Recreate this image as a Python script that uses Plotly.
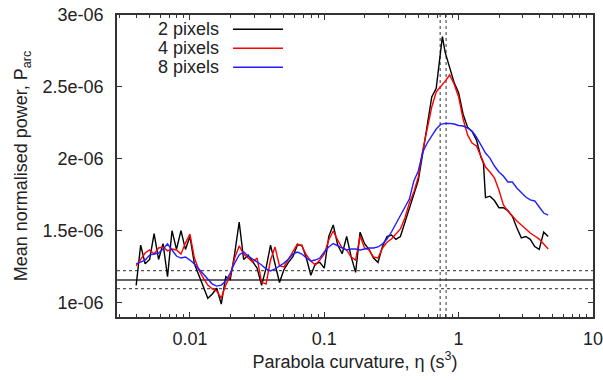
import plotly.graph_objects as go

# ---------------- data ----------------
ETA = [0.003981, 0.004299, 0.004642, 0.005012, 0.005412, 0.005843, 0.006310, 0.006813, 0.007356, 0.007943, 0.008577, 0.009261,
       0.01000, 0.01080, 0.01166, 0.01259, 0.01359, 0.01468, 0.01585, 0.01711, 0.01848, 0.01995, 0.02154, 0.02326, 0.02512, 0.02712, 0.02929,
       0.03162, 0.03415, 0.03687, 0.03981, 0.04299, 0.04642, 0.05012, 0.05412, 0.05843, 0.06310, 0.06813, 0.07356, 0.07943, 0.08577, 0.09261,
       0.1000, 0.1080, 0.1166, 0.1259, 0.1359, 0.1468, 0.1585, 0.1711, 0.1848, 0.1995, 0.2154, 0.2326, 0.2512, 0.2712, 0.2929,
       0.3162, 0.3415, 0.3687, 0.3981, 0.4299, 0.4642, 0.5012, 0.5412, 0.5843, 0.6310, 0.6813, 0.7356, 0.7943, 0.8577, 0.9261,
       1.000, 1.080, 1.166, 1.259, 1.359, 1.468, 1.585, 1.711, 1.848, 1.995, 2.154, 2.326, 2.512, 2.712, 2.929,
       3.162, 3.415, 3.687, 3.981, 4.299, 4.642]

ETA_2PX = [0.003981, 0.004299, 0.004642, 0.005012, 0.005412, 0.005843, 0.006310, 0.006813, 0.007356, 0.007943, 0.008577, 0.009261,
           0.01000, 0.01080, 0.01166, 0.01259, 0.01359, 0.01468, 0.01585, 0.01711, 0.01848, 0.01995, 0.02154, 0.02326, 0.02512, 0.02712, 0.02929,
           0.03162, 0.03415, 0.03687, 0.03981, 0.04299, 0.04642, 0.05012, 0.05412, 0.05843, 0.06310, 0.06813, 0.07356, 0.07943, 0.08577, 0.09261,
           0.1000, 0.1080, 0.1166, 0.1259, 0.1359, 0.1468, 0.1585, 0.1711, 0.1848, 0.1995, 0.2154, 0.2326, 0.2512, 0.2712, 0.2929,
           0.3162, 0.3415, 0.3687, 0.3981, 0.4299, 0.4642, 0.5012, 0.5412, 0.5843, 0.6310, 0.6813, 0.7356, 0.757, 0.7943, 0.8577, 0.9261,
           1.000, 1.080, 1.166, 1.259, 1.359, 1.468, 1.53, 1.585, 1.711, 1.848, 1.995, 2.154, 2.326, 2.512, 2.712, 2.929,
           3.162, 3.415, 3.687, 3.981, 4.299, 4.642]

# mean normalised power, units of 1e-6
P_2PX = [1.12, 1.40, 1.27, 1.30, 1.48, 1.30, 1.41, 1.18, 1.50, 1.37, 1.50, 1.37,
         1.46, 1.27, 1.19, 1.11, 1.03, 1.06, 1.10, 0.99, 1.18, 1.16, 1.34, 1.56, 1.30, 1.33, 1.28,
         1.24, 1.12, 1.24, 1.40, 1.28, 1.14, 1.23, 1.28, 1.32, 1.40, 1.40, 1.31, 1.19, 1.27, 1.28,
         1.24, 1.46, 1.54, 1.40, 1.34, 1.46, 1.32, 1.21, 1.49, 1.41, 1.37, 1.31, 1.28, 1.39, 1.46,
         1.47, 1.44, 1.46, 1.56, 1.66, 1.75, 1.85, 2.04, 2.24, 2.43, 2.49, 2.76, 2.85, 2.74, 2.63, 2.53,
         2.46, 2.31, 2.22, 2.19, 2.13, 2.01, 1.97, 1.73, 1.74, 1.71, 1.66, 1.66, 1.64, 1.60, 1.52,
         1.45, 1.46, 1.44, 1.39, 1.37, 1.49, 1.46]

P_4PX = [1.255, 1.30, 1.345, 1.366, 1.338, 1.38, 1.387, 1.36, 1.373, 1.366, 1.338, 1.414,
         1.477, 1.31, 1.227, 1.17, 1.122, 1.095, 1.08, 1.032, 1.122, 1.185, 1.31, 1.394, 1.338, 1.31, 1.282,
         1.31, 1.143, 1.129, 1.296, 1.387, 1.255, 1.248, 1.303, 1.352, 1.408, 1.394, 1.331, 1.29, 1.262, 1.296,
         1.338, 1.435, 1.498, 1.435, 1.38, 1.366, 1.317, 1.296, 1.463, 1.38, 1.366, 1.317, 1.31, 1.38, 1.42,
         1.442, 1.477, 1.512, 1.588, 1.693, 1.77, 1.874, 2.061, 2.221, 2.36, 2.465, 2.50, 2.54, 2.583, 2.52,
         2.43, 2.277, 2.166, 2.11, 2.089, 2.013, 1.943, 1.908, 1.867, 1.783, 1.679, 1.637, 1.602, 1.568, 1.54,
         1.512, 1.484, 1.463, 1.442, 1.408, 1.373]

P_8PX = [1.269, 1.282, 1.296, 1.331, 1.338, 1.345, 1.373, 1.408, 1.366, 1.324, 1.31, 1.317,
         1.296, 1.269, 1.234, 1.199, 1.164, 1.129, 1.115, 1.122, 1.15, 1.206, 1.275, 1.331, 1.352, 1.324, 1.303,
         1.282, 1.262, 1.234, 1.22, 1.234, 1.255, 1.275, 1.303, 1.338, 1.352, 1.338, 1.31, 1.29, 1.296, 1.31,
         1.352, 1.387, 1.411, 1.394, 1.38, 1.366, 1.373, 1.373, 1.366, 1.373, 1.38, 1.38, 1.387, 1.408, 1.442,
         1.491, 1.547, 1.602, 1.658, 1.72, 1.846, 1.915, 2.047, 2.11, 2.16, 2.207, 2.239, 2.246, 2.246, 2.242,
         2.232, 2.228, 2.214, 2.193, 2.151, 2.09, 2.04, 2.005, 1.95, 1.908, 1.88, 1.839, 1.839, 1.797, 1.762,
         1.734, 1.714, 1.707, 1.665, 1.623, 1.609]

SERIES_NAMES = ["2 pixels", "4 pixels", "8 pixels"]
SERIES_COLORS = ["#000000", "#ff0000", "#1f1fff"]

ETA_PEAK_BOUNDS = [0.729, 0.807]          # vertical dotted lines
P_NOISE_MEAN = 1.157                      # solid horizontal line (1e-6)
P_NOISE_BOUNDS = [1.097, 1.222]           # dotted horizontal lines (1e-6)

X_RANGE = [0.002865, 10.0]
Y_RANGE = [0.9, 3.0]
X_TICKS = [0.01, 0.1, 1, 10]
X_TICKTEXT = ["0.01", "0.1", "1", "10"]
X_MINOR_TICKS = [0.003, 0.004, 0.005, 0.006, 0.007, 0.008, 0.009,
                 0.02, 0.03, 0.04, 0.05, 0.06, 0.07, 0.08, 0.09,
                 0.2, 0.3, 0.4, 0.5, 0.6, 0.7, 0.8, 0.9,
                 2, 3, 4, 5, 6, 7, 8, 9]
Y_TICKS = [1.0, 1.5, 2.0, 2.5, 3.0]
Y_TICKTEXT = ["1e-06", "1.5e-06", "2e-06", "2.5e-06", "3e-06"]

SCALE = 1e-6

# ---------------- figure ----------------
fig = go.Figure()

ref_color = "#555555"
for e in ETA_PEAK_BOUNDS:
    fig.add_trace(go.Scatter(x=[e, e], y=[Y_RANGE[0] * SCALE, Y_RANGE[1] * SCALE], mode="lines",
                             line=dict(color=ref_color, width=1.2, dash="dot"),
                             showlegend=False, hoverinfo="skip"))
for p in P_NOISE_BOUNDS:
    fig.add_trace(go.Scatter(x=X_RANGE, y=[p * SCALE, p * SCALE], mode="lines",
                             line=dict(color=ref_color, width=1.2, dash="dot"),
                             showlegend=False, hoverinfo="skip"))
fig.add_trace(go.Scatter(x=X_RANGE, y=[P_NOISE_MEAN * SCALE] * 2, mode="lines",
                         line=dict(color="#333333", width=1.5),
                         showlegend=False, hoverinfo="skip"))

xs = [ETA_2PX, ETA, ETA]
ys = [P_2PX, P_4PX, P_8PX]
for name, color, x, y in zip(SERIES_NAMES, SERIES_COLORS, xs, ys):
    fig.add_trace(go.Scatter(x=x, y=[v * SCALE for v in y], mode="lines", name=name,
                             line=dict(color=color, width=1.4), showlegend=False))

# gnuplot-style legend: text left, sample right
L, R, T, B = 117, 593, 15, 317
W, H = R - L, B - T
def px(xp):
    return (xp - L) / W
def py(yp):
    return (B - yp) / H

legend_rows = [29.3, 48.3, 67.3]
for name, color, yr in zip(SERIES_NAMES, SERIES_COLORS, legend_rows):
    fig.add_annotation(x=px(221), y=py(yr), xref="paper", yref="paper", text=name,
                       showarrow=False, xanchor="right", yanchor="middle",
                       font=dict(size=18, color="#222222", family="Liberation Sans, Arial, sans-serif"))
    fig.add_shape(type="line", xref="paper", yref="paper", x0=px(233), x1=px(283),
                  y0=py(yr), y1=py(yr), line=dict(color=color, width=1.4))

axis_common = dict(showline=True, linecolor="#333333", linewidth=1.5, mirror="allticks",
                   ticks="inside", tickcolor="#333333", tickwidth=1, showgrid=False, zeroline=False,
                   automargin=False, tickfont=dict(size=18, color="#222222"))

fig.update_xaxes(type="log", range=[-2.5428, 1.0003], tickmode="array", tickvals=X_TICKS, ticktext=X_TICKTEXT,
                 ticklen=5, ticklabelstandoff=5,
                 minor=dict(tickmode="array", tickvals=X_MINOR_TICKS, ticks="inside", ticklen=3,
                            tickcolor="#333333", showgrid=False),
                 title=dict(text="Parabola curvature, η (s<sup>3</sup>)", font=dict(size=18, color="#222222"),
                            standoff=2),
                 **axis_common)
fig.update_yaxes(range=[Y_RANGE[0] * SCALE, Y_RANGE[1] * SCALE],
                 tickvals=[v * SCALE for v in Y_TICKS], ticktext=Y_TICKTEXT,
                 ticklen=5, ticklabelstandoff=8,
                 title=dict(text="Mean normalised power, P<sub>arc</sub>", font=dict(size=18, color="#222222"),
                            standoff=10),
                 **axis_common)

fig.update_layout(width=603, height=380, margin=dict(l=L, r=603 - R, t=T, b=380 - B, autoexpand=False),
                  paper_bgcolor="white", plot_bgcolor="white",
                  font=dict(family="Liberation Sans, Arial, sans-serif", size=18, color="#222222"),
                  showlegend=False)

fig.write_html("out.html")
